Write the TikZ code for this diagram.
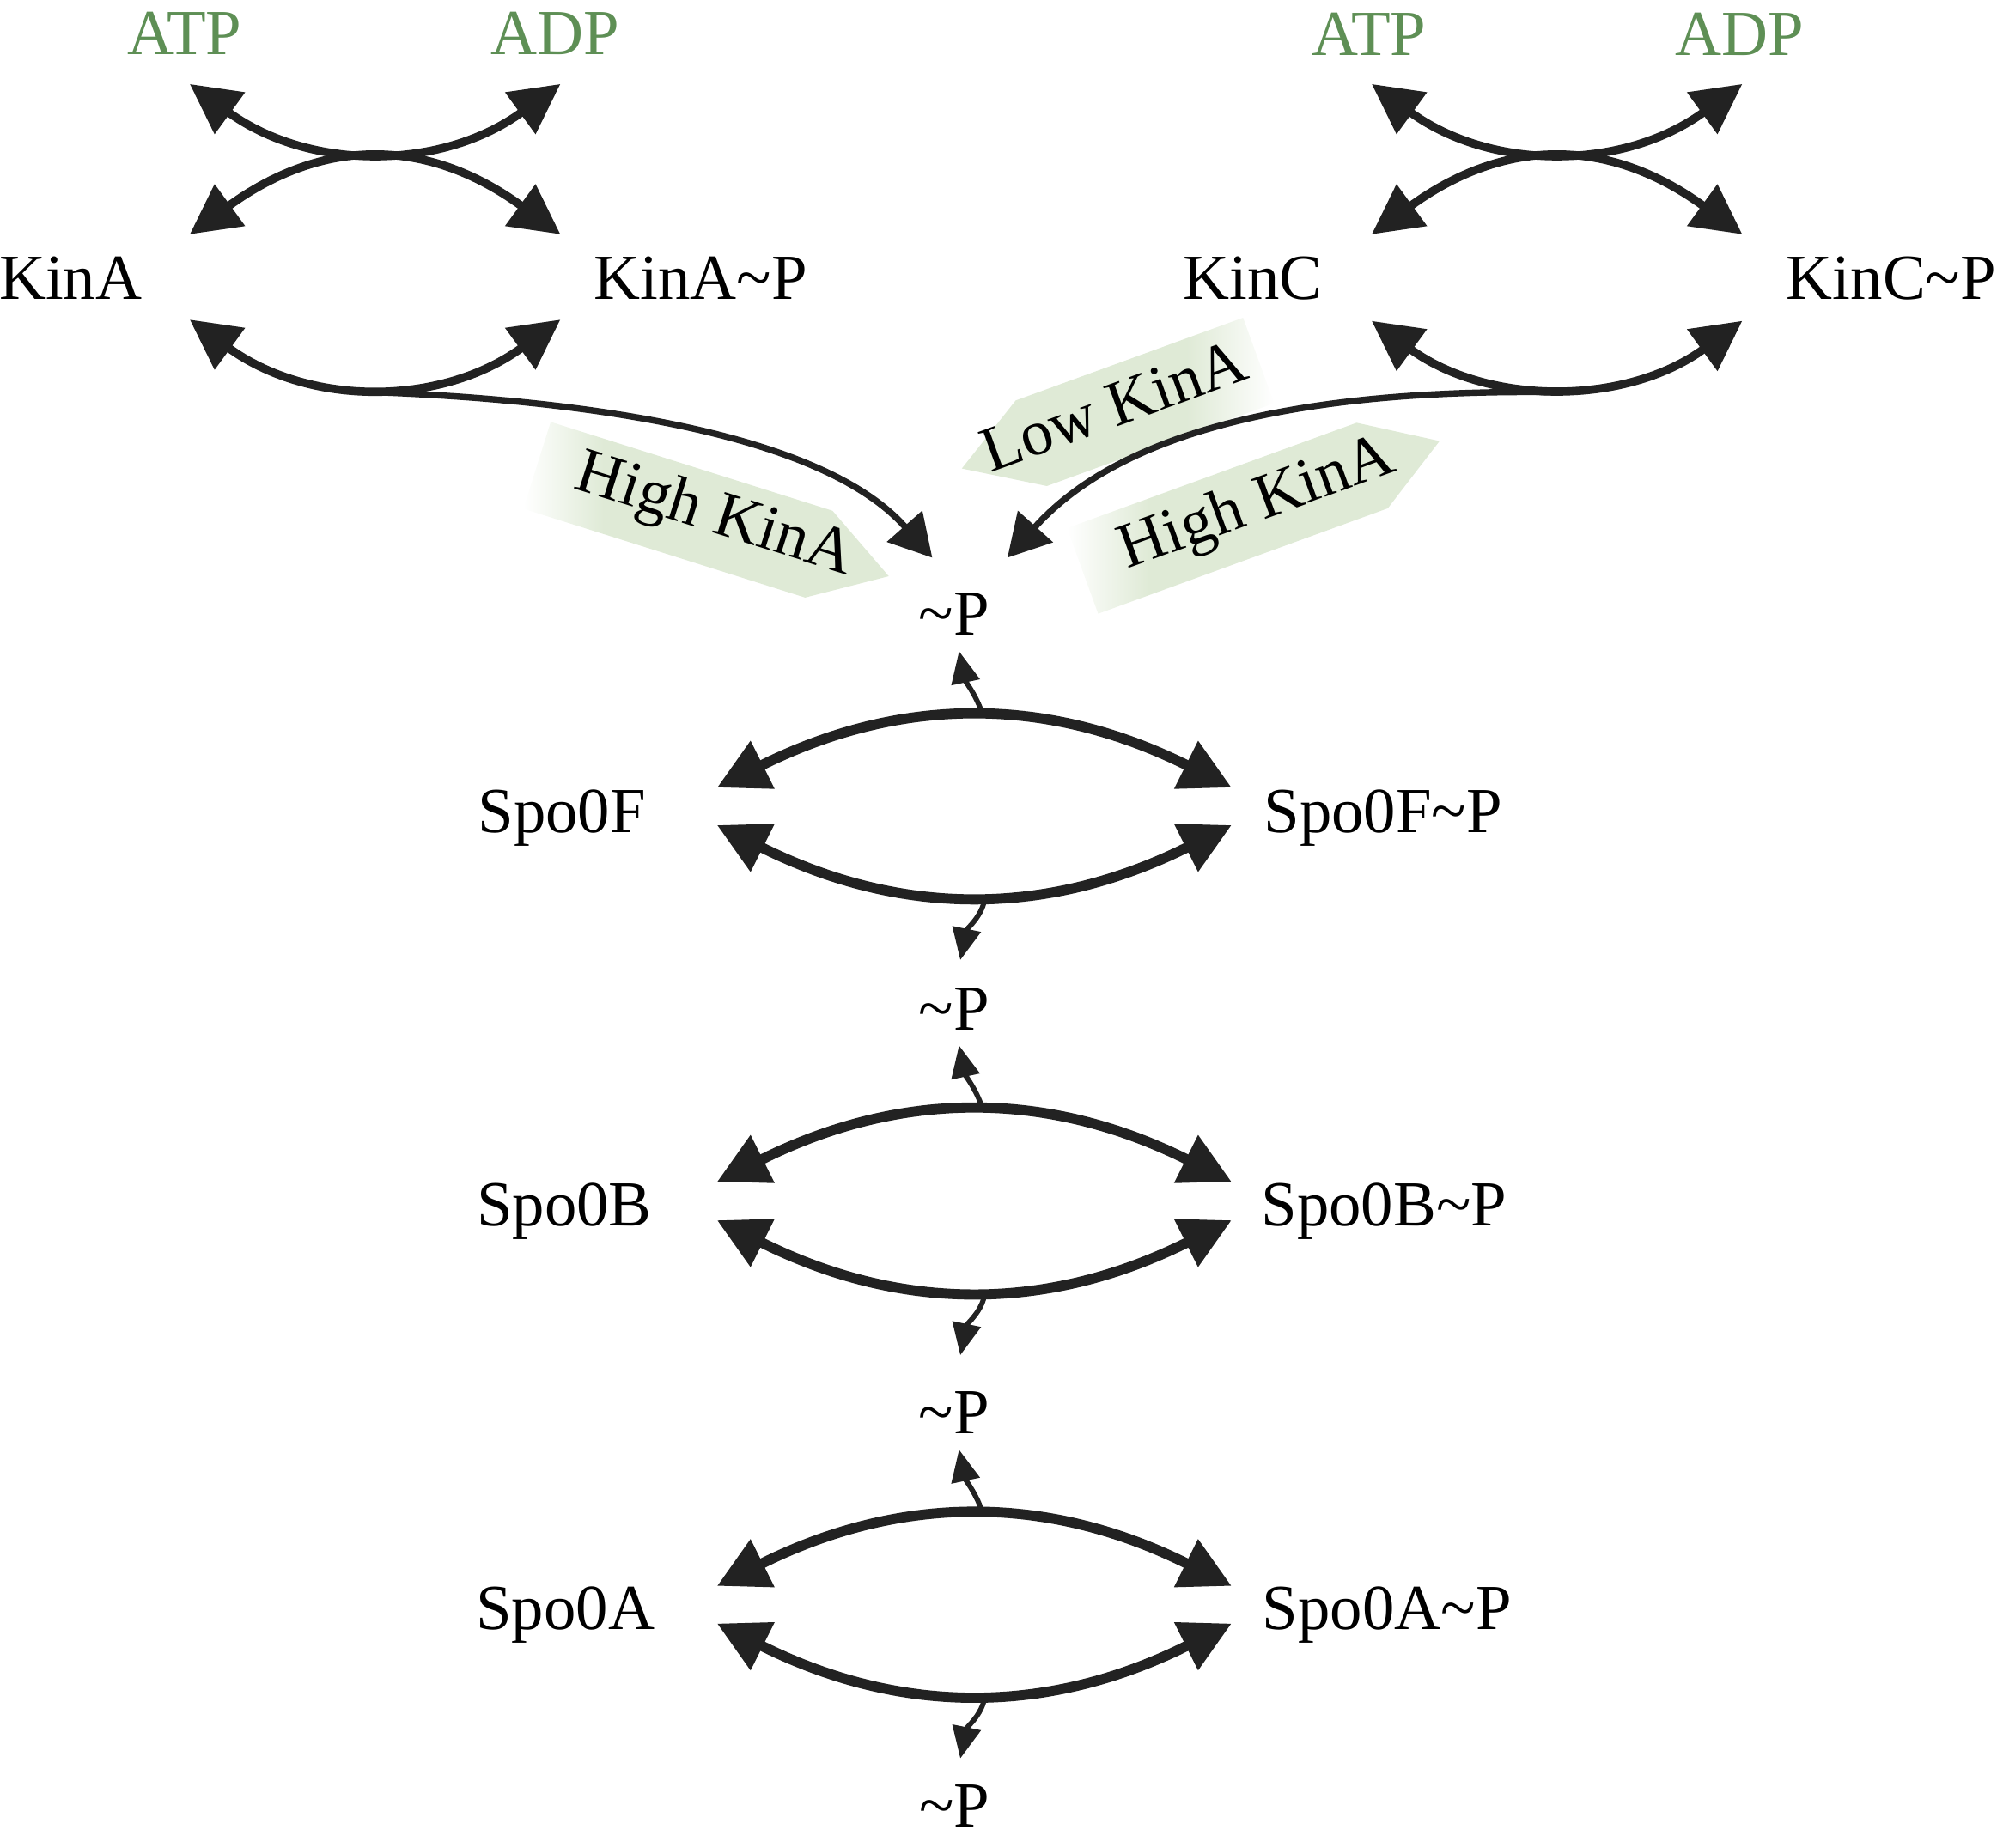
\documentclass[tikz,border=0pt]{standalone}
\usepackage{fontspec}
\setmainfont{Liberation Serif}
\usetikzlibrary{arrows.meta}
\definecolor{txtG}{HTML}{5E8F55}
\definecolor{tagG}{HTML}{DFEAD6}
\definecolor{ink}{HTML}{222222}
\pgfdeclarehorizontalshading{fadeL}{100bp}{color(0bp)=(white); color(25bp)=(white); color(36bp)=(tagG); color(100bp)=(tagG)}
\pgfdeclarehorizontalshading{fadeR}{100bp}{color(0bp)=(tagG); color(61bp)=(tagG); color(75bp)=(white); color(100bp)=(white)}
\begin{document}
\begin{tikzpicture}[x=0.02cm, y=-0.02cm,
  font=\fontsize{28.7pt}{34pt}\selectfont,
  lbl/.style={anchor=base, inner sep=0pt},
  grn/.style={lbl, text=txtG},
  xarc/.style={draw=ink, line width=0.13cm, >={Triangle[length=0.78cm,width=0.78cm]}, <->},
  spoarc/.style={draw=ink, line width=0.16cm, >={Triangle[length=0.8cm,width=0.8cm]}, <->},
  kbranch/.style={draw=ink, line width=0.1cm, -{Triangle[length=0.66cm,width=0.72cm]}},
  pout/.style={draw=ink, line width=0.08cm, -{Triangle[length=0.5cm,width=0.44cm]}},
  tagtext/.style={anchor=base, inner sep=0pt, transform shape}]
\useasboundingbox (0,0) rectangle (1568,1451);

% ---------- labels ----------
\node[grn] (atpL) at (145,42.5) {ATP};
\node[grn] (adpL) at (435.6,42.5) {ADP};
\node[grn] (atpR) at (1075,43.8) {ATP};
\node[grn] (adpR) at (1366,43.8) {ADP};
\node[lbl] (kinA) at (55.5,235) {KinA};
\node[lbl] (kinAP) at (550,235) {KinA\textasciitilde P};
\node[lbl] (kinC) at (983.5,235) {KinC};
\node[lbl] (kinCP) at (1485,235) {KinC\textasciitilde P};
\node[lbl] (p1) at (749,499) {\textasciitilde P};
\node[lbl] (p2) at (749,809) {\textasciitilde P};
\node[lbl] (p3) at (749,1126) {\textasciitilde P};
\node[lbl] (p4) at (749.5,1435) {\textasciitilde P};
\node[lbl, anchor=base west] (spoF) at (375,653.5) {Spo0F};
\node[lbl, anchor=base west] (spoFP) at (992,653.5) {Spo0F\textasciitilde P};
\node[lbl, anchor=base west] (spoB) at (374,963) {Spo0B};
\node[lbl, anchor=base west] (spoBP) at (990,963) {Spo0B\textasciitilde P};
\node[lbl, anchor=base west] (spoA) at (373.5,1279.5) {Spo0A};
\node[lbl, anchor=base west] (spoAP) at (991,1279.5) {Spo0A\textasciitilde P};

% ---------- green tags ----------
\begin{scope}[shift={(642.9,435.2)}, rotate=-17.5]
  \shade[shading=fadeL] (-232,-35.75) -- (0,-35.75) -- (57.6,0) -- (0,35.75) -- (-232,35.75) -- cycle;
  \node[tagtext] (hk1) at (-87,8.8) {High KinA};
\end{scope}
\begin{scope}[shift={(809.7,348.1)}, rotate=20]
  \shade[shading=fadeR] (-58,0) -- (0,-35.75) -- (190,-35.75) -- (190,35.75) -- (0,35.75) -- cycle;
  \node[tagtext] (lk) at (70.8,10.8) {Low KinA};
\end{scope}
\begin{scope}[shift={(1077.4,365.6)}, rotate=20]
  \shade[shading=fadeL] (-242,-35.75) -- (0,-35.75) -- (56.3,0) -- (0,35.75) -- (-242,35.75) -- cycle;
  \node[tagtext] (hk2) at (-95.4,10.7) {High KinA};
\end{scope}

% ---------- KinA exchange ----------
\coordinate (aL1) at (149,66);  \coordinate (aL2) at (440,66);
\coordinate (aL3) at (149,184); \coordinate (aL4) at (440,184);
\coordinate (aL5) at (149,251); \coordinate (aL6) at (440,251);
\coordinate (aLm) at (295,308); \coordinate (pin1) at (732,438);
\draw[xarc] (aL1) .. controls (242.8,134.3) and (346.2,134.3) .. (aL2);
\draw[xarc] (aL3) .. controls (253.8,107.7) and (335.2,107.7) .. (aL4);
\draw[xarc] (aL5) .. controls (242.8,319.3) and (346.2,319.3) .. (aL6);
\draw[kbranch] (aLm) .. controls (480,315) and (650,345) .. (pin1);

% ---------- KinC exchange ----------
\coordinate (aR1) at (1077,66);  \coordinate (aR2) at (1368,66);
\coordinate (aR3) at (1077,184); \coordinate (aR4) at (1368,184);
\coordinate (aR5) at (1077,252); \coordinate (aR6) at (1368,252);
\coordinate (aRm) at (1222,308); \coordinate (pin2) at (791,438);
\draw[xarc] (aR1) .. controls (1170.8,134.3) and (1274.2,134.3) .. (aR2);
\draw[xarc] (aR3) .. controls (1181.8,107.7) and (1263.2,107.7) .. (aR4);
\draw[xarc] (aR5) .. controls (1168.5,318.7) and (1276.5,318.7) .. (aR6);
\draw[kbranch] (aRm) .. controls (990,305) and (870,350) .. (pin2);

% ---------- Spo0 loops ----------
\foreach \yT/\yB/\n in {617/649.5/F, 926.6/959.8/B, 1244/1276.5/A}{
  \coordinate (ul\n) at (563,\yT+1.5);  \coordinate (ur\n) at (967,\yT+1.5);
  \coordinate (ll\n) at (563,\yB-1.5);  \coordinate (lr\n) at (967,\yB-1.5);
  \coordinate (top\n) at (771,\yT-57);  \coordinate (tt\n) at (753,\yT-105.6);
  \coordinate (bot\n) at (773,\yB+57);  \coordinate (bt\n) at (754,\yB+104.5);
  \draw[spoarc] (ul\n) .. controls (707.2,\yT-70.6) and (822.8,\yT-70.6) .. (ur\n);
  \draw[spoarc] (ll\n) .. controls (707.2,\yB+70.6) and (822.8,\yB+70.6) .. (lr\n);
  \draw[pout] (top\n) .. controls (767,\yT-70) and (758,\yT-82) .. (tt\n);
  \draw[pout] (bot\n) .. controls (771,\yB+70) and (759,\yB+80) .. (bt\n);
}
\end{tikzpicture}
\end{document}
